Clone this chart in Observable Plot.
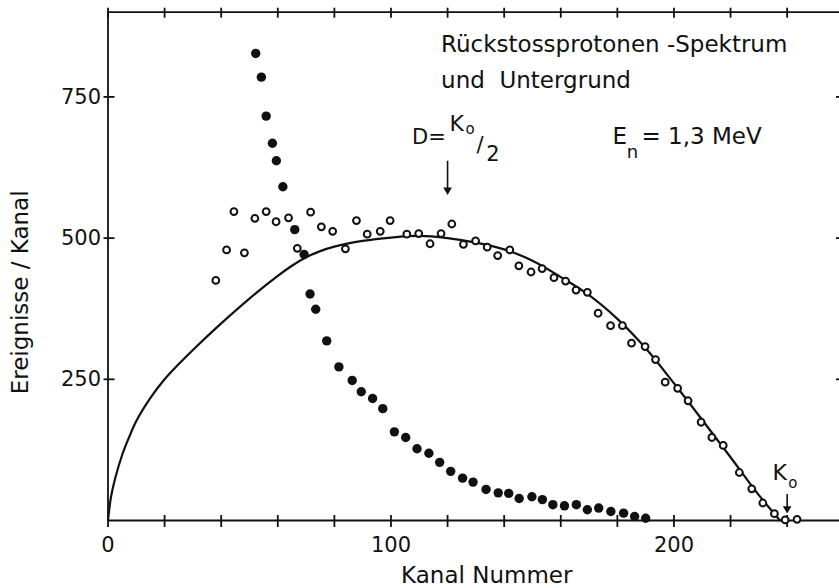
<!DOCTYPE html>
<html>
<head>
<meta charset="utf-8">
<script src="https://cdn.jsdelivr.net/npm/d3@7"></script>
<script src="https://cdn.jsdelivr.net/npm/@observablehq/plot@0.6"></script>
<style>
  body { margin: 0; background: #fff; }
  svg { display: block; }
</style>
</head>
<body>
<div id="chart"></div>
<script>
// Recoil-proton spectrum (open circles), background (filled dots) and fitted curve
const spectrumX = [38.1, 41.9, 44.5, 48.2, 51.9, 55.9, 59.4, 63.8, 66.9, 71.6, 75.4, 79.4, 83.9, 87.8, 91.6, 96.2, 99.7, 105.6, 109.8, 113.8, 117.7, 121.5, 125.6, 129.9, 134.0, 137.7, 142.0, 145.2, 149.5, 153.4, 157.6, 161.7, 165.4, 169.4, 173.2, 177.6, 181.8, 185.0, 189.8, 193.5, 196.9, 201.3, 205.0, 209.6, 213.4, 217.4, 223.1, 227.5, 231.4, 235.5, 239.3, 243.5];
const spectrumY = [425, 479, 547, 474, 535, 547, 529, 536, 482, 546, 520, 512, 481, 531, 507, 512, 531, 507, 508, 490, 508, 525, 489, 495, 484, 469, 479, 451, 440, 446, 430, 424, 408, 404, 367, 345, 345, 314, 308, 285, 245, 234, 212, 174, 147, 133, 85, 56, 31, 12, 1, 2];

const backgroundX = [52.2, 54.2, 55.9, 58.1, 59.5, 61.8, 66.0, 69.3, 71.4, 73.4, 77.3, 81.6, 86.3, 89.5, 93.5, 97.1, 101.2, 105.2, 109.2, 113.4, 117.2, 121.1, 125.3, 129.0, 133.6, 137.9, 141.6, 145.3, 149.8, 153.5, 157.2, 161.3, 165.5, 169.4, 173.4, 177.7, 182.2, 186.1, 190.0];
const backgroundY = [827, 785, 716, 668, 637, 591, 515, 471, 401, 374, 318, 272, 248, 228, 216, 198, 157, 147, 127, 119, 103, 87, 75, 68, 55, 49, 48, 39, 42, 37, 28, 26, 28, 19, 22, 16, 13, 7, 4];

const fitX = [0, 1, 2.5, 5, 7.5, 10, 15, 20, 25, 30, 40, 50, 60, 65, 70, 75, 80, 90, 100, 110, 120, 130, 140, 150, 160, 170, 180, 190, 200, 210, 220, 230, 237.5];
const fitY = [0, 40, 74, 116, 148, 176, 217, 250, 277, 302, 349, 393, 433, 451, 466, 477, 485, 495, 501, 504, 500, 492, 480, 460, 431, 399, 357, 305, 243, 178, 112, 45, 0];

const xTicks = [0, 20, 40, 60, 80, 100, 120, 140, 160, 180, 200, 220, 240];
const xLabelled = [0, 100, 200];
const yTicks = [250, 500, 750];

const halfChannel = 120; // D = K0/2
const edgeChannel = 240; // K0

const ink = "#111";
const font = "DejaVu Sans";

const spectrum = spectrumX.map((x, i) => ({x, y: spectrumY[i]}));
const background = backgroundX.map((x, i) => ({x, y: backgroundY[i]}));
const fit = fitX.map((x, i) => ({x, y: fitY[i]}));

// annotation pieces, placed in data coordinates (left-aligned)
const notes = [
  {x: 117.7, y: 829, text: "Rückstossprotonen -Spektrum", size: 23},
  {x: 117.7, y: 765, text: "und\u00a0\u00a0Untergrund", size: 23},
  {x: 120.7, y: 690, text: "K", size: 22},
  {x: 126.3, y: 684, text: "o", size: 15},
  {x: 130.2, y: 652, text: "/", size: 21},
  {x: 133.7, y: 637, text: "2", size: 21},
  {x: 178.3, y: 667, text: "E", size: 23},
  {x: 183.3, y: 642, text: "n", size: 18},
  {x: 188.5, y: 667, text: "= 1,3 MeV", size: 23},
  {x: 234.8, y: 71, text: "K", size: 22},
  {x: 240.4, y: 58, text: "o", size: 15}
];
// right-aligned piece in front of the fraction
const notesEnd = [
  {x: 119.4, y: 667, text: "D=", size: 21}
];

const arrows = [
  {x: halfChannel, y1: 637, y2: 585},
  {x: edgeChannel, y1: 47, y2: 21}
];

const chart = Plot.plot({
  width: 839,
  height: 588,
  marginLeft: 107.5,
  marginRight: 0,
  marginTop: 11.7,
  marginBottom: 68,
  style: {fontFamily: font, fontSize: "21px", color: ink, background: "#fff"},
  x: {domain: [0, 258.5]},
  y: {domain: [0, 900]},
  marks: [
    // frame lines
    Plot.ruleX([0], {stroke: ink, strokeWidth: 1.8}),
    Plot.ruleY([0, 900], {stroke: ink, strokeWidth: 1.8}),
    // bottom axis: outward ticks with labels, inward ticks
    Plot.axisX({anchor: "bottom", ticks: xTicks, tickSize: 7, tickPadding: 10, strokeWidth: 1.8,
      tickFormat: d => xLabelled.includes(d) ? String(d) : "", fontSize: 21, label: null}),
    Plot.axisX({anchor: "bottom", ticks: xTicks, tickSize: -5, strokeWidth: 1.8, tickFormat: () => "", label: null}),
    // top axis ticks
    Plot.axisX({anchor: "top", ticks: xTicks, tickSize: 5, strokeWidth: 1.8, tickFormat: () => "", label: null}),
    Plot.axisX({anchor: "top", ticks: xTicks, tickSize: -5, strokeWidth: 1.8, tickFormat: () => "", label: null}),
    // left axis
    Plot.axisY({anchor: "left", ticks: yTicks, tickSize: 4, tickPadding: 3, strokeWidth: 1.8,
      tickFormat: d => String(d), fontSize: 21, label: null}),
    Plot.axisY({anchor: "left", ticks: yTicks, tickSize: -7, strokeWidth: 1.8, tickFormat: () => "", label: null}),
    // right axis ticks
    Plot.axisY({anchor: "right", ticks: yTicks, tickSize: -4, strokeWidth: 1.8, tickFormat: () => "", label: null}),
    // axis titles
    Plot.text(["Kanal Nummer"], {frameAnchor: "bottom", textAnchor: "middle", lineAnchor: "bottom", dx: 13, dy: 62, fontSize: 23, fill: ink}),
    Plot.text(["Ereignisse / Kanal"], {frameAnchor: "left", textAnchor: "middle", lineAnchor: "middle", rotate: -90, dx: -87.5, dy: 26, fontSize: 23, fill: ink}),
    // fitted curve
    Plot.line(fit, {x: "x", y: "y", curve: "catmull-rom", stroke: ink, strokeWidth: 2.2}),
    // background
    Plot.dot(background, {x: "x", y: "y", r: 4.7, fill: ink, stroke: "none"}),
    // spectrum
    Plot.dot(spectrum, {x: "x", y: "y", r: 3.4, fill: "#fff", stroke: ink, strokeWidth: 2}),
    // arrows
    Plot.link(arrows, {x1: "x", x2: "x", y1: "y1", y2: "y2", stroke: ink, strokeWidth: 1.6}),
    Plot.dot(arrows, {x: "x", y: "y2", symbol: "triangle", rotate: 180, r: 3.2, fill: ink, stroke: "none"}),
    // annotations
    Plot.text(notes, {x: "x", y: "y", text: "text", fontSize: d => d.size, textAnchor: "start", lineAnchor: "bottom", fill: ink}),
    Plot.text(notesEnd, {x: "x", y: "y", text: "text", fontSize: d => d.size, textAnchor: "end", lineAnchor: "bottom", fill: ink})
  ]
});

document.getElementById("chart").append(chart);
</script>
</body>
</html>
